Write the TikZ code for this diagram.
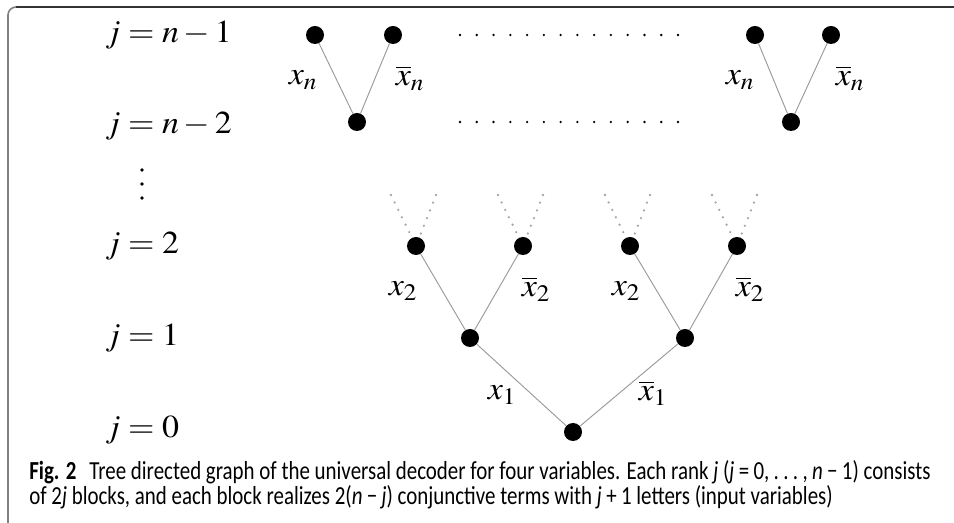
\documentclass[tikz,border=0pt]{standalone}
\usepackage{mathptmx}
\usepackage{graphicx}
\usepackage[no-math]{fontspec}
\newfontfamily\capfont[FakeStretch=0.805]{Carlito}
\newcommand{\wide}[1]{\scalebox{1.06}[1]{$#1$}}
\begin{document}
\begin{tikzpicture}[x=0.75pt,y=-0.75pt,
  vtx/.style={circle,fill=black,inner sep=0pt,minimum size=13.5pt},
  edge/.style={draw=black!40,line width=0.7pt},
  dotline/.style={draw=black!35,line width=1.9pt,line cap=round,dash pattern=on 0pt off 6.2pt},
  lvl/.style={anchor=west,inner sep=0pt,font=\fontsize{24}{28}\selectfont},
  lab/.style={inner sep=0pt,font=\fontsize{24}{28}\selectfont},
  captext/.style={anchor=base west,inner sep=0pt,font=\capfont\fontsize{19.5}{23}\selectfont}]
\useasboundingbox (0,0) rectangle (954,523);
% frame
\draw[draw=black!80,line width=1.5pt] (16,7) -- (954,7);
\draw[draw=black!50,line width=1.2pt] (8,523) -- (8,15) arc[start angle=180,end angle=270,radius=8];
% level labels
\node[lvl] (l5) at (105,35) {\wide{j=n-1}};
\node[lvl] (l4) at (105,126) {\wide{j=n-2}};
\foreach \y in {170,184,198}{\fill (142,\y) circle[radius=1.9];}
\node[lvl] (l2) at (105,246) {\wide{j=2}};
\node[lvl] (l1) at (105,338) {\wide{j=1}};
\node[lvl] (l0) at (105,430) {\wide{j=0}};
% top blocks
\node[vtx] (a1) at (315,35) {};
\node[vtx] (a2) at (393,35) {};
\node[vtx] (a0) at (357,122) {};
\node[vtx] (b1) at (755,35) {};
\node[vtx] (b2) at (831,35) {};
\node[vtx] (b0) at (791,122) {};
\draw[edge] (a1) -- (a0) -- (a2);
\draw[edge] (b1) -- (b0) -- (b2);
\node[lab] (la1) at (303,80) {\wide{x_n}};
\node[lab] (la2) at (410,78) {\wide{\overline{x}_n}};
\node[lab] (lb1) at (740,80) {\wide{x_n}};
\node[lab] (lb2) at (850,78) {\wide{\overline{x}_n}};
\foreach \i in {0,...,13}{
  \fill (460+\i*16.77,35) circle[radius=1.3];
  \fill (460+\i*16.77,122) circle[radius=1.3];
}
% lower tree
\node[vtx] (r) at (573,432) {};
\node[vtx] (p1) at (470,338) {};
\node[vtx] (p2) at (685,338) {};
\node[vtx] (q1) at (416,246) {};
\node[vtx] (q2) at (523,246) {};
\node[vtx] (q3) at (630,246) {};
\node[vtx] (q4) at (737,246) {};
\draw[edge] (p1) -- (r) -- (p2);
\draw[edge] (q1) -- (p1) -- (q2);
\draw[edge] (q3) -- (p2) -- (q4);
\foreach \q in {q1,q2,q3,q4}{
  \coordinate (\q l) at ([shift={(-25,-51)}]\q.center);
  \coordinate (\q r) at ([shift={(20,-51)}]\q.center);
  \draw[dotline] (\q l) -- (\q);
  \draw[dotline] (\q r) -- (\q);
}
\node[lab] (e1) at (403,291) {\wide{x_2}};
\node[lab] (e2) at (536,289) {\wide{\overline{x}_2}};
\node[lab] (e3) at (626,291) {\wide{x_2}};
\node[lab] (e4) at (750,289) {\wide{\overline{x}_2}};
\node[lab] (e5) at (502,395) {\wide{x_1}};
\node[lab] (e6) at (653,393) {\wide{\overline{x}_1}};
% caption
\node[captext] (c1) at (29,480) {\textbf{Fig. 2}\enspace Tree directed graph of the universal decoder for four variables. Each rank \textit{j} (\textit{j}\,=\,0,\,.\,.\,.\,,\,\textit{n}\,\textminus\,1) consists};
\node[captext] (c2) at (29,505) {of 2\textit{j} blocks, and each block realizes 2(\textit{n}\,\textminus\,\textit{j}) conjunctive terms with \textit{j}\,+\,1 letters (input variables)};
\end{tikzpicture}
\end{document}
